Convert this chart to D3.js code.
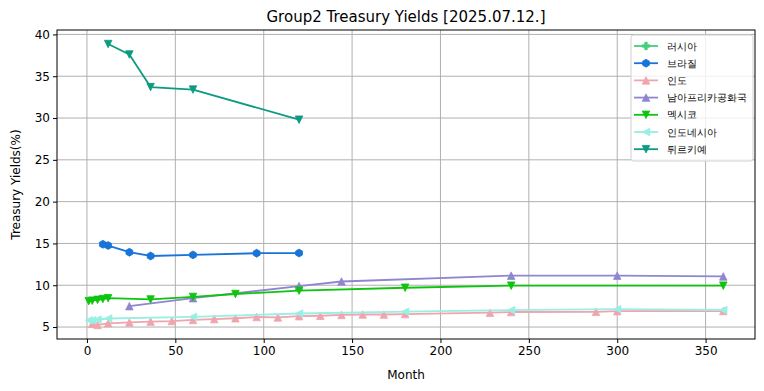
<!DOCTYPE html>
<html>
<head>
<meta charset="utf-8">
<script src="https://cdn.jsdelivr.net/npm/d3@7/dist/d3.min.js"></script>
<style>
  html, body { margin: 0; padding: 0; background: #fff; }
  svg { display: block; }
  text { font-family: "DejaVu Sans", sans-serif; fill: #000; }
</style>
</head>
<body>
<svg id="chart" width="764" height="391"></svg>
<script>
// ---- data ----
const seriesNames = ["러시아", "브라질", "인도", "남아프리카공화국", "멕시코", "인도네시아", "튀르키예"];
const russiaX = [];
const russiaY = [];
const brazilX = [9, 12, 24, 36, 60, 96, 120];
const brazilY = [14.9, 14.75, 13.95, 13.5, 13.63, 13.83, 13.85];
const indiaX = [3, 6, 12, 24, 36, 48, 60, 72, 84, 96, 108, 120, 132, 144, 156, 168, 180, 228, 240, 288, 300, 360];
const indiaY = [5.4, 5.25, 5.45, 5.55, 5.65, 5.72, 5.85, 5.95, 6.05, 6.2, 6.15, 6.3, 6.35, 6.45, 6.5, 6.5, 6.55, 6.72, 6.8, 6.82, 6.9, 6.92];
const saX = [24, 60, 120, 144, 240, 300, 360];
const saY = [7.5, 8.45, 9.9, 10.45, 11.15, 11.15, 11.05];
const mexicoX = [1, 3, 6, 9, 12, 36, 60, 84, 120, 180, 240, 360];
const mexicoY = [8.1, 8.15, 8.25, 8.35, 8.45, 8.3, 8.6, 8.95, 9.35, 9.7, 9.95, 9.95];
const indonesiaX = [1, 3, 6, 12, 60, 120, 180, 240, 300, 360];
const indonesiaY = [5.8, 5.8, 5.9, 6.02, 6.22, 6.62, 6.84, 7.02, 7.14, 7.04];
const turkeyX = [12, 24, 36, 60, 120];
const turkeyY = [38.85, 37.6, 33.7, 33.4, 29.8];
const xTicks = [0, 50, 100, 150, 200, 250, 300, 350];
const yTicks = [5, 10, 15, 20, 25, 30, 35, 40];
const seriesColors = ["#45cf7c", "#1874d8", "#f0a4ad", "#9086d0", "#0ec40e", "#98efe3", "#0c9a82"];
const seriesMarkers = ["plus", "hexagon", "triangleUp", "triangleUp", "triangleDown", "triangleLeft", "triangleDown"];
const titleText = "Group2 Treasury Yields [2025.07.12.]";
const xLabel = "Month";
const yLabel = "Treasury Yields(%)";

const series = [
  [russiaX, russiaY], [brazilX, brazilY], [indiaX, indiaY], [saX, saY],
  [mexicoX, mexicoY], [indonesiaX, indonesiaY], [turkeyX, turkeyY]
].map((d, i) => ({
  name: seriesNames[i], color: seriesColors[i], marker: seriesMarkers[i],
  points: d[0].map((x, j) => ({ x: x, y: d[1][j] }))
}));

// ---- layout ----
const svg = d3.select("#chart");
const m = { left: 57, right: 755, top: 30, bottom: 339 };

const allPts = series.flatMap(s => s.points);
const xMin = d3.min(allPts, p => p.x), xMax = d3.max(allPts, p => p.x);
const yMin = d3.min(allPts, p => p.y), yMax = d3.max(allPts, p => p.y);
const xPad = (xMax - xMin) * 0.05, yPad = (yMax - yMin) * 0.05;

const x = d3.scaleLinear().domain([xMin - xPad, xMax + xPad]).range([m.left, m.right]);
const y = d3.scaleLinear().domain([yMin - yPad, yMax + yPad]).range([m.bottom, m.top]);

// grid
const grid = svg.append("g").attr("stroke", "#b0b0b0").attr("stroke-width", 1);
xTicks.forEach(t => grid.append("line")
  .attr("x1", x(t)).attr("x2", x(t)).attr("y1", m.top).attr("y2", m.bottom));
yTicks.forEach(t => grid.append("line")
  .attr("x1", m.left).attr("x2", m.right).attr("y1", y(t)).attr("y2", y(t)));

// markers
const S = 7.5;
function markerPath(type, s) {
  const h = s / 2;
  switch (type) {
    case "triangleUp": return `M0,${-h}L${-h},${h}L${h},${h}Z`;
    case "triangleDown": return `M0,${h}L${-h},${-h}L${h},${-h}Z`;
    case "triangleLeft": return `M${-h},0L${h},${-h}L${h},${h}Z`;
    case "hexagon": {
      let p = "";
      for (let k = 0; k < 6; k++) {
        const a = Math.PI / 2 + k * Math.PI / 3;
        p += (k ? "L" : "M") + (h * 1.05 * Math.cos(a)).toFixed(2) + "," + (-h * 1.05 * Math.sin(a)).toFixed(2);
      }
      return p + "Z";
    }
    case "plus": {
      const a = h, b = h / 3;
      return `M${-b},${-a}H${b}V${-b}H${a}V${b}H${b}V${a}H${-b}V${b}H${-a}V${-b}H${-b}Z`;
    }
  }
}

const plot = svg.append("g");
const line = d3.line().x(p => x(p.x)).y(p => y(p.y));
series.forEach(s => {
  const g = plot.append("g");
  if (s.points.length) {
    g.append("path").attr("d", line(s.points)).attr("fill", "none")
      .attr("stroke", s.color).attr("stroke-width", 1.8).attr("stroke-linejoin", "round");
  }
  g.selectAll("path.mk").data(s.points).enter().append("path").attr("class", "mk")
    .attr("d", markerPath(s.marker, S))
    .attr("transform", p => `translate(${x(p.x)},${y(p.y)})`)
    .attr("fill", s.color).attr("stroke", s.color).attr("stroke-width", 0.8);
});

// axes
const xAxis = d3.axisBottom(x).tickValues(xTicks).tickSize(4).tickPadding(3).tickFormat(d3.format("d"));
const yAxis = d3.axisLeft(y).tickValues(yTicks).tickSize(4).tickPadding(3).tickFormat(d3.format("d"));
const gx = svg.append("g").attr("transform", `translate(0,${m.bottom})`).call(xAxis);
const gy = svg.append("g").attr("transform", `translate(${m.left},0)`).call(yAxis);
[gx, gy].forEach(g => {
  g.select(".domain").remove();
  g.selectAll("text").attr("font-size", 12).attr("font-family", "DejaVu Sans").attr("fill", "#000");
  g.selectAll(".tick line").attr("stroke", "#000").attr("stroke-width", 1);
});

// frame
svg.append("rect").attr("x", m.left).attr("y", m.top)
  .attr("width", m.right - m.left).attr("height", m.bottom - m.top)
  .attr("fill", "none").attr("stroke", "#000").attr("stroke-width", 1);

// labels
svg.append("text").attr("x", (m.left + m.right) / 2).attr("y", 22)
  .attr("text-anchor", "middle").attr("font-size", 15).text(titleText);
svg.append("text").attr("x", (m.left + m.right) / 2).attr("y", 379)
  .attr("text-anchor", "middle").attr("font-size", 12).text(xLabel);
svg.append("text").attr("transform", `translate(20,${(m.top + m.bottom) / 2}) rotate(-90)`)
  .attr("text-anchor", "middle").attr("font-size", 12).text(yLabel);

// legend
const lg = svg.append("g");
lg.append("rect").attr("x", 631).attr("y", 35).attr("width", 122).attr("height", 126)
  .attr("rx", 2.5).attr("fill", "#fff").attr("fill-opacity", 0.8)
  .attr("stroke", "#d0d0d0").attr("stroke-width", 1);
series.forEach((s, i) => {
  const cy = 46 + i * 17.2;
  lg.append("line").attr("x1", 634).attr("x2", 658).attr("y1", cy).attr("y2", cy)
    .attr("stroke", s.color).attr("stroke-width", 1.8);
  lg.append("path").attr("d", markerPath(s.marker, S))
    .attr("transform", `translate(646,${cy})`).attr("fill", s.color)
    .attr("stroke", s.color).attr("stroke-width", 0.8);
  lg.append("text").attr("x", 667).attr("y", cy + 3.6).attr("font-size", 9.6)
    .attr("font-family", "Noto Sans CJK KR").text(s.name);
});
</script>
</body>
</html>
